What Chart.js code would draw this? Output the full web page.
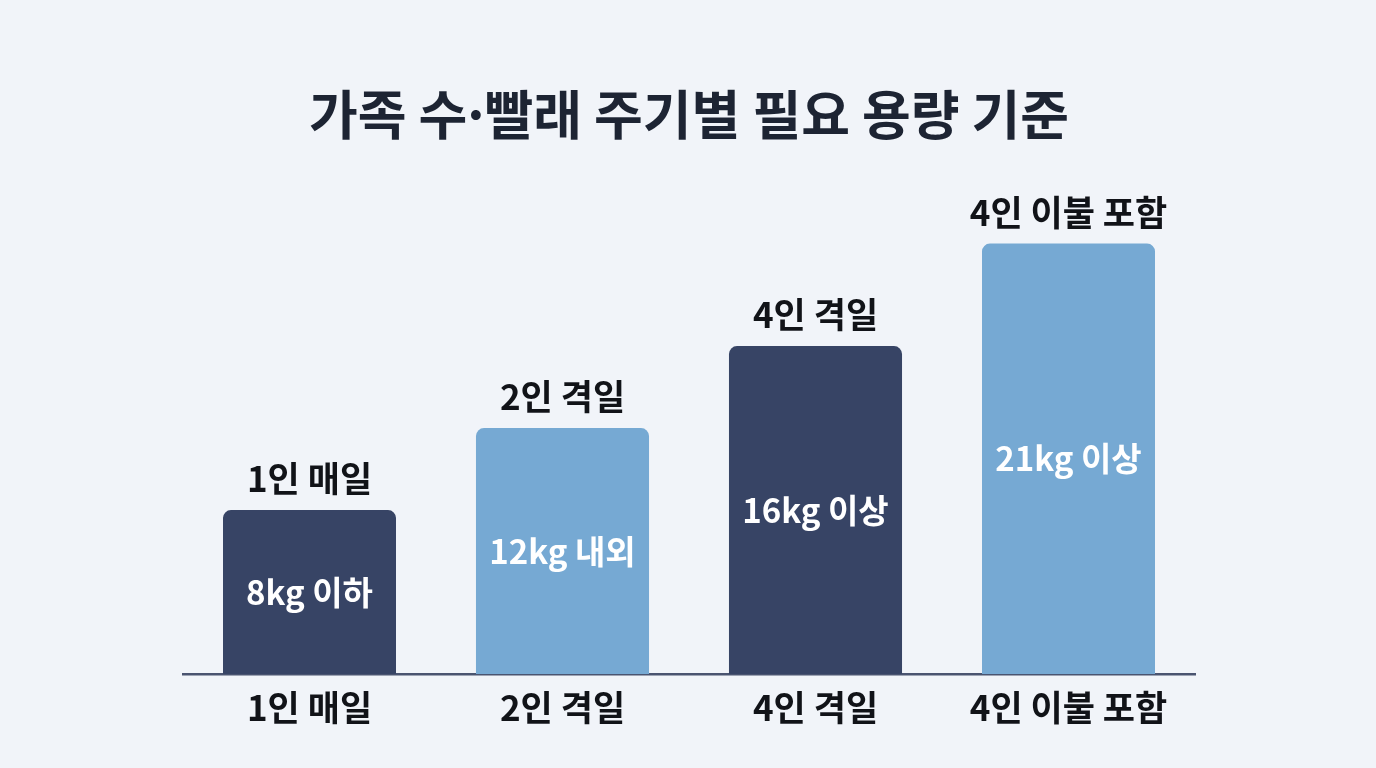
<!DOCTYPE html>
<html lang="ko">
<head>
<meta charset="utf-8">
<title>가족 수·빨래 주기별 필요 용량 기준</title>
<script src="https://cdn.jsdelivr.net/npm/chart.js@4.4.1/dist/chart.umd.min.js"></script>
<style>
    html, body { margin: 0; padding: 0; background: #f1f4f9; }
    #wrap { width: 1376px; height: 768px; }
</style>
</head>
<body>
<div id="wrap"><canvas id="capacityChart" width="1376" height="768"></canvas></div>
<script>
// Chart data
const categories = ['1인 매일', '2인 격일', '4인 격일', '4인 이불 포함'];
const capacities = [8, 12, 16, 21];
const capacityLabels = ['8kg 이하', '12kg 내외', '16kg 이상', '21kg 이상'];
const barColors = ['#374465', '#76a9d3', '#374465', '#76a9d3'];

const FONT = '"Noto Sans CJK KR", "Noto Sans", sans-serif';

// Draws the category name above each bar and the capacity text inside it
const barLabels = {
    id: 'barLabels',
    afterDatasetsDraw(chart) {
        const ctx = chart.ctx;
        const meta = chart.getDatasetMeta(0);
        ctx.save();
        ctx.textAlign = 'center';
        ctx.textBaseline = 'middle';
        meta.data.forEach((bar, i) => {
            ctx.font = 'bold 35px ' + FONT;
            ctx.fillStyle = '#111318';
            ctx.fillText(categories[i], bar.x, bar.y - 31);

            ctx.font = 'bold 33px ' + FONT;
            ctx.fillStyle = '#ffffff';
            ctx.fillText(capacityLabels[i], bar.x, (bar.y + bar.base) / 2);
        });
        ctx.restore();
    }
};

const ctx = document.getElementById('capacityChart').getContext('2d');
const capacityChart = new Chart(ctx, {
    type: 'bar',
    data: {
        labels: categories,
        datasets: [{
            data: capacities,
            backgroundColor: barColors,
            borderRadius: { topLeft: 8, topRight: 8, bottomLeft: 0, bottomRight: 0 },
            borderSkipped: false,
            categoryPercentage: 1,
            barPercentage: 0.684
        }]
    },
    options: {
        responsive: false,
        animation: false,
        devicePixelRatio: 1,
        layout: {
            padding: { left: 183, right: 181, top: 0, bottom: 26 }
        },
        plugins: {
            legend: { display: false },
            tooltip: { enabled: false },
            title: {
                display: true,
                text: '가족 수·빨래 주기별 필요 용량 기준',
                color: '#1d2433',
                font: { family: FONT, size: 53, weight: 'bold', lineHeight: 1.2 },
                padding: { top: 83, bottom: 15 }
            }
        },
        scales: {
            x: {
                grid: { display: false, drawTicks: false },
                border: { display: true, color: '#4a5470', width: 2.5 },
                ticks: {
                    color: '#111318',
                    padding: 13,
                    font: { family: FONT, size: 35, weight: 'bold', lineHeight: 1.2 }
                }
            },
            y: {
                display: false,
                min: 0,
                max: 25
            }
        }
    },
    plugins: [barLabels]
});
</script>
</body>
</html>
